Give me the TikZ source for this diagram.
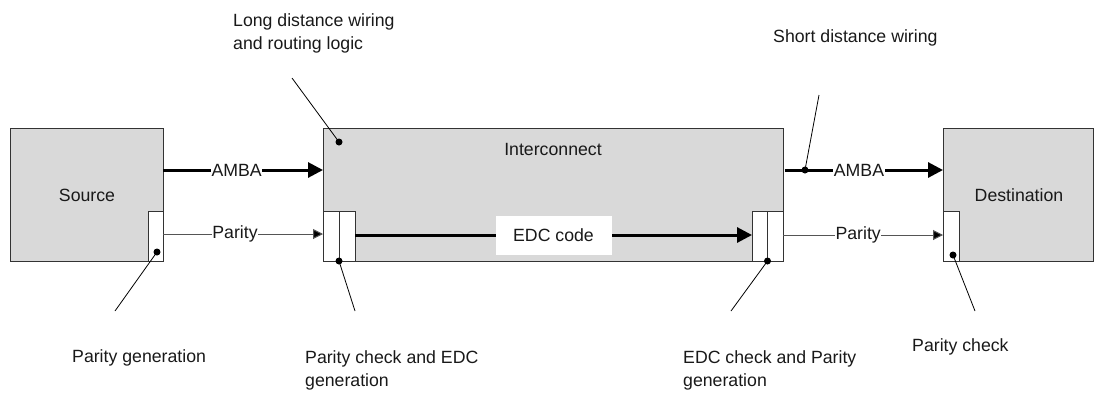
\documentclass[tikz,border=0pt]{standalone}
\usepackage{fontspec}
\setmainfont{Liberation Sans}
\usetikzlibrary{arrows.meta}
\definecolor{boxgray}{HTML}{D9D9D9}
\definecolor{edgecol}{HTML}{333333}
\definecolor{thincol}{HTML}{555555}
\tikzset{
  blk/.style={draw=edgecol, line width=1pt, fill=boxgray, anchor=north west, inner sep=0pt, outer sep=0pt},
  sub/.style={draw=edgecol, line width=1pt, fill=white, anchor=north west, inner sep=0pt, outer sep=0pt, minimum height=50pt},
  bus/.style={line width=3pt, -{Triangle[length=15pt,width=15pt]}},
  sig/.style={line width=1pt, draw=thincol, -{Triangle[length=10pt,width=10pt,fill=black]}},
  lead/.style={line width=0.8pt, draw=black},
  dot/.style={circle, fill=black, inner sep=0pt, minimum size=7pt},
  lbl/.style={font=\fontsize{17.7}{23}\selectfont, text=black!90, inner sep=0pt},
  onl/.style={font=\fontsize{17.7}{23}\selectfont, text=black!90, fill=white, inner sep=0.5pt},
}
\begin{document}
\begin{tikzpicture}[x=1pt, y=-1pt]
\useasboundingbox (0,0) rectangle (1094,392);
% blocks
\node[blk, minimum width=153pt, minimum height=133pt] (src) at (10,128) {};
\node[blk, minimum width=460pt, minimum height=133pt] (ic) at (323,128) {};
\node[blk, minimum width=150pt, minimum height=133pt] (dst) at (943,128) {};
\node[lbl] (srct) at (87,195) {Source};
\node[lbl] (ict) at (553,149) {Interconnect};
\node[lbl] (dstt) at (1019,195) {Destination};
% sub-blocks
\node[sub, minimum width=15pt] (srcp) at (148,211) {};
\node[sub, minimum width=16pt] (icl1) at (323,211) {};
\node[sub, minimum width=16pt] (icl2) at (339,211) {};
\node[sub, minimum width=15.5pt] (icr1) at (752,211) {};
\node[sub, minimum width=15.5pt] (icr2) at (767.5,211) {};
\node[sub, minimum width=16pt] (dstp) at (943,211) {};
% levels
\coordinate (ya) at (0,170);
\coordinate (yp) at (0,234);
\coordinate (yq) at (0,235);
% AMBA buses
\draw[bus] (src.east |- ya) -- node[onl, pos=0.46] (amba1) {AMBA} (ic.west |- ya);
\draw[bus] ([xshift=1.5pt]ic.east |- ya) -- node[onl, pos=0.47] (amba2) {AMBA} (dst.west |- ya);
% parity signals
\draw[sig] (srcp.east |- yp) -- node[onl, pos=0.45] (par1) {Parity} (icl1.west |- yp);
\draw[sig] (icr2.east |- yq) -- node[onl, pos=0.47] (par2) {Parity} (dstp.west |- yq);
% EDC code
\draw[bus] (icl2.east |- yq) -- node[onl, minimum width=116pt, minimum height=39pt, inner sep=0pt] (edc) {EDC code} (icr1.west |- yq);
% dots
\node[dot] (d1) at (339,142) {};
\node[dot] (d2) at (805,170) {};
\node[dot] (d3) at (157,252) {};
\node[dot] (d4) at (339,261) {};
\node[dot] (d5) at (767.5,261) {};
\node[dot] (d6) at (953,255) {};
% leader ends
\coordinate (e1) at (292,78);
\coordinate (e2) at (819,95);
\coordinate (e3) at (115,311);
\coordinate (e4) at (355,311);
\coordinate (e5) at (731,311);
\coordinate (e6) at (975,311);
\draw[lead] (d1.center) -- (e1);
\draw[lead] (d2.center) -- (e2);
\draw[lead] (d3.center) -- (e3);
\draw[lead] (d4.center) -- (e4);
\draw[lead] (d5.center) -- (e5);
\draw[lead] (d6.center) -- (e6);
% annotation texts
\node[lbl, anchor=north west, align=left] (t1) at (233,13) {Long distance wiring\\and routing logic};
\node[lbl, anchor=base west] (t2) at (773,42) {Short distance wiring};
\node[lbl, anchor=base west] (t3) at (72,362) {Parity generation};
\node[lbl, anchor=north west, align=left] (t4) at (305,350) {Parity check and EDC\\generation};
\node[lbl, anchor=north west, align=left] (t5) at (683,350) {EDC check and Parity\\generation};
\node[lbl, anchor=base west] (t6) at (912,351) {Parity check};
\end{tikzpicture}
\end{document}
